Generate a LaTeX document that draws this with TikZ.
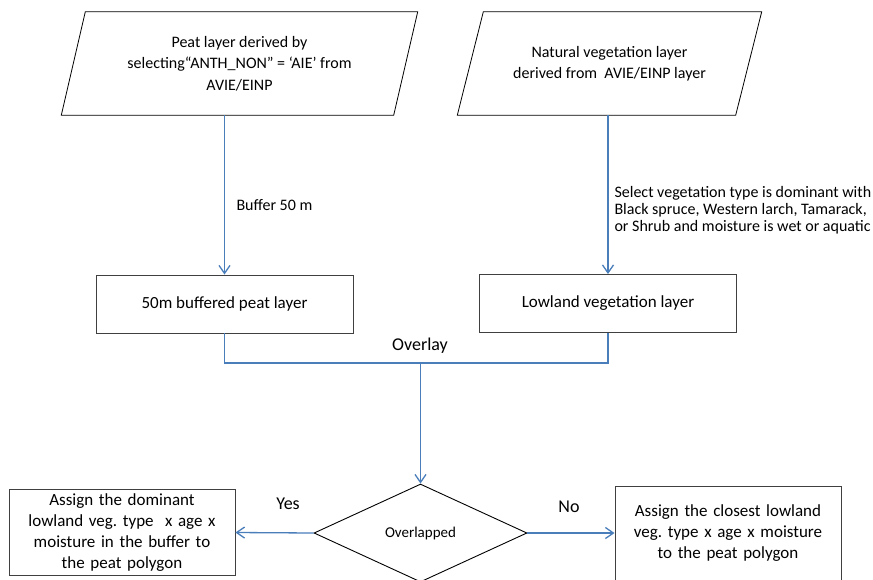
\documentclass[tikz,border=0pt]{standalone}
\usepackage{fontspec}
\setmainfont{Carlito}
\usetikzlibrary{arrows.meta,shapes.geometric}
\definecolor{flowblue}{RGB}{74,126,187}
\frenchspacing

\begin{document}
\begin{tikzpicture}[x=1pt,y=-1pt,
	inputbox/.style={minimum height=103pt,align=center,font=\fontsize{16}{21.5}\selectfont},
	layerbox/.style={draw=black!75,line width=0.9pt,minimum width=257pt,minimum height=58pt,font=\fontsize{17}{20}\selectfont},
	resultbox/.style={draw=black!75,line width=0.9pt,align=center,inner sep=4pt,text width=218pt,font=\fontsize{17}{21}\selectfont},
	flow/.style={draw=flowblue,line width=1.3pt,-{Straight Barb[length=8pt,width=11pt]}},
	joinline/.style={draw=flowblue,line width=1.3pt},
	lbl/.style={font=\fontsize{18}{20}\selectfont}]% Draw the flow chart
	\useasboundingbox (0,0) rectangle (873,579);
	\node[inputbox,minimum width=332pt] (peat) at (239.5,63.5) {Peat layer derived by\\selecting“ANTH\_NON” = ‘AIE’ from\\AVIE/EINP};
	\node[inputbox,minimum width=278pt] (veg) at (609.5,63.5) {Natural vegetation layer\\derived from\ \ AVIE/EINP layer};
	\draw[line width=0.8pt] ([xshift=12pt]peat.north west) -- ([xshift=12pt]peat.north east) -- ([xshift=-12pt]peat.south east) -- ([xshift=-12pt]peat.south west) -- cycle;
	\draw[line width=0.8pt] ([xshift=13pt]veg.north west) -- ([xshift=13pt]veg.north east) -- ([xshift=-13pt]veg.south east) -- ([xshift=-13pt]veg.south west) -- cycle;
	
	\node[layerbox] (buffered) at (224.5,304) {50m buffered peat layer};
	\node[layerbox] (lowland) at (608,303.5) {Lowland vegetation layer};
	\draw[flow] (buffered.north |- peat.south) -- (buffered.north);
	\draw[flow] (lowland.north |- veg.south) -- (lowland.north);
	\node[anchor=west,font=\fontsize{16}{18}\selectfont] (bufferlbl) at (233,205) {Buffer 50 m};
	\node[anchor=west,align=left,font=\fontsize{16}{17}\selectfont] (selectlbl) at (611,210) {Select vegetation type is dominant with\\Black spruce, Western larch, Tamarack,\\or Shrub and moisture is wet or aquatic};
	
	%\draw[joinline] (buffered.south) -- (lowland.south);
	\coordinate (join) at (420.5,363);
	\draw[joinline] (buffered.south) |- (join) -| (lowland.south);
	\node[lbl] (overlaylbl) at (420,346) {Overlay};
	
	\node[draw,diamond,line width=0.9pt,minimum width=213pt,minimum height=98pt,inner sep=0pt,font=\fontsize{15}{18}\selectfont] (overlap) at (420.5,533) {Overlapped};
	\draw[flow] (join) -- (overlap.north);
	
	\node[resultbox,minimum height=85pt] (dominant) at (122,532.5) {Assign the dominant\\lowland veg. type\ \ x age x\\moisture in the buffer to\\the peat polygon};
	\node[resultbox,minimum height=94pt] (closest) at (728,533) {Assign the closest lowland\\veg. type x age x moisture\\to the peat polygon};
	\draw[flow] (overlap.west) -- (dominant.east);
	\draw[flow] (overlap.east) -- (closest.west);
	\node[lbl] (yeslbl) at (288,504) {Yes};
	\node[lbl] (nolbl) at (569,507) {No};
\end{tikzpicture}
\end{document}
